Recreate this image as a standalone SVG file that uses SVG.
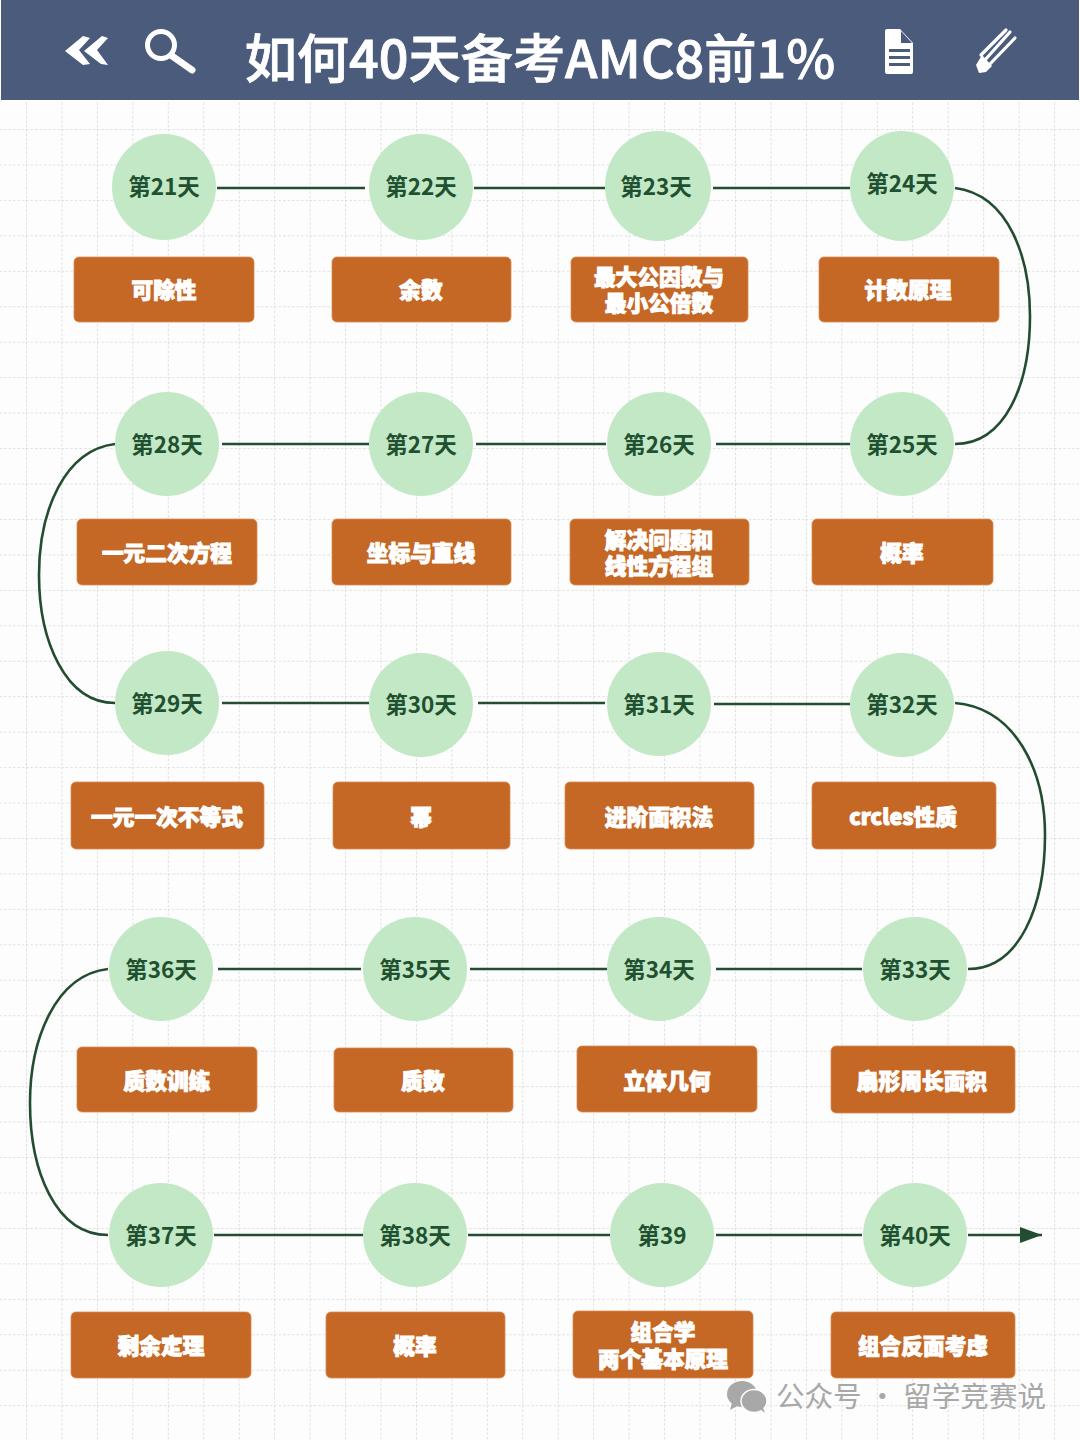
<svg xmlns="http://www.w3.org/2000/svg" width="1080" height="1440" viewBox="0 0 1080 1440">
<style>
text{font-family:"Noto Sans CJK SC","Noto Sans",sans-serif;text-anchor:middle}
.c{fill:#c3e8c6}
.b{fill:#c56725;stroke:#d98a52;stroke-width:.8}
.d{font-size:22.5px;font-weight:700;fill:#1f5130}
.t{font-size:21.7px;font-weight:900;fill:#fff;stroke:#fff;stroke-width:1}
.m{font-family:"Liberation Sans","Noto Sans CJK SC",sans-serif}
.l{fill:none;stroke:#234d30;stroke-width:2.6}
.i{fill:#fff}
.s{fill:none;stroke:#fff;stroke-linecap:round}
</style>
<defs>
<pattern id="grid" x="26" y="129" width="35.45" height="35.45" patternUnits="userSpaceOnUse">
<path d="M0 0H35.45M0 0V35.45" fill="none" stroke="#d4d8d4" stroke-width="1.6" stroke-dasharray="2.5 2"/>
</pattern>
<marker id="arrow" markerUnits="userSpaceOnUse" markerWidth="24" markerHeight="18" refX="22" refY="8" orient="auto"><path d="M0 0L22 8L0 16Z" fill="#234d30"/></marker>
</defs>
<rect width="1080" height="1440" fill="#fdfdfd"/>
<rect y="102" width="1080" height="1338" fill="url(#grid)"/>
<g id="header">
<rect x="1" width="1078" height="100" fill="#4b5b7c"/>
<path class="i" d="M65 51L83 36L90 38L79 50L90 64L83 65ZM84 51L102 36L108 38L97 50L108 65L101 64Z"/>
<circle class="s" cx="161" cy="45" r="13.5" stroke-width="5"/>
<path class="s" d="M172 56L192 70" stroke-width="7"/>
<text x="540" y="78" font-size="52.2" font-weight="500" fill="#fff" stroke="#fff" stroke-width=".8">如何40天备考AMC8前1%</text>
<path class="i" d="M887 29H900L913 43V72Q913 74 911 74H887Q885 74 885 72V31Q885 29 887 29ZM889 49V52H910V49ZM889 56V59H910V56ZM889 63V66H910V63ZM901 31V43H912Z" fill-rule="evenodd"/>
<path class="s" d="M985 60L1010 32M990 64L1015 38M981 55L1006 30" stroke-width="3.2"/>
<path class="i" d="M976 65L979 73L986 72L992 66L982 55Z"/>
</g>
<g id="connectors">
<path class="l" d="M217 188H365M474 188H605M713 188H850M955 188C1010 195 1030 260 1030 316C1030 385 1005 444 955 444"/>
<path class="l" d="M222 444H369M476 444H606M716 444H850M115 444C65 450 39 510 39 575C39 640 65 703 115 703"/>
<path class="l" d="M222 703H369M478 703H605M714 704H850M955 703C1015 708 1045 770 1045 835C1045 905 1020 969 968 969"/>
<path class="l" d="M218 969H361M470 969H607M716 969H862M108 969C55 975 30 1040 30 1103C30 1170 55 1235 108 1235"/>
<path class="l" d="M214 1235H363M468 1235H610M716 1235H862"/>
<path class="l" d="M968 1235H1042" marker-end="url(#arrow)"/>
</g>
<g id="day21"><ellipse class="c" cx="164" cy="187" rx="52" ry="53"/><text class="d" x="164" y="195">第21天</text></g>
<g id="day22"><ellipse class="c" cx="421" cy="187" rx="52" ry="53"/><text class="d" x="421" y="195">第22天</text></g>
<g id="day23"><ellipse class="c" cx="658" cy="186" rx="53" ry="55"/><text class="d" x="656" y="195">第23天</text></g>
<g id="day24"><ellipse class="c" cx="902" cy="186" rx="52" ry="55"/><text class="d" x="902" y="192">第24天</text></g>
<g id="day25"><circle class="c" cx="902" cy="444" r="52"/><text class="d" x="902" y="453">第25天</text></g>
<g id="day26"><circle class="c" cx="659" cy="444" r="52"/><text class="d" x="659" y="453">第26天</text></g>
<g id="day27"><circle class="c" cx="421" cy="444" r="52"/><text class="d" x="421" y="453">第27天</text></g>
<g id="day28"><circle class="c" cx="167" cy="444" r="52"/><text class="d" x="167" y="453">第28天</text></g>
<g id="day29"><circle class="c" cx="167" cy="703" r="52"/><text class="d" x="167" y="712">第29天</text></g>
<g id="day30"><circle class="c" cx="421" cy="705" r="52"/><text class="d" x="421" y="713">第30天</text></g>
<g id="day31"><circle class="c" cx="659" cy="704" r="52"/><text class="d" x="659" y="713">第31天</text></g>
<g id="day32"><circle class="c" cx="902" cy="705" r="52"/><text class="d" x="902" y="713">第32天</text></g>
<g id="day33"><circle class="c" cx="915" cy="969" r="52"/><text class="d" x="915" y="978">第33天</text></g>
<g id="day34"><circle class="c" cx="659" cy="969" r="52"/><text class="d" x="659" y="978">第34天</text></g>
<g id="day35"><circle class="c" cx="415" cy="969" r="52"/><text class="d" x="415" y="978">第35天</text></g>
<g id="day36"><circle class="c" cx="161" cy="969" r="52"/><text class="d" x="161" y="978">第36天</text></g>
<g id="day37"><circle class="c" cx="161" cy="1235" r="52"/><text class="d" x="161" y="1244">第37天</text></g>
<g id="day38"><circle class="c" cx="415" cy="1235" r="52"/><text class="d" x="415" y="1244">第38天</text></g>
<g id="day39"><circle class="c" cx="662" cy="1235" r="52"/><text class="d" x="662" y="1244">第39</text></g>
<g id="day40"><circle class="c" cx="915" cy="1235" r="52"/><text class="d" x="915" y="1244">第40天</text></g>
<g id="topic21"><rect class="b" x="74" y="257" width="180" height="65" rx="5"/><text class="t" x="164" y="298">可除性</text></g>
<g id="topic22"><rect class="b" x="332" y="257" width="179" height="65" rx="5"/><text class="t" x="421" y="298">余数</text></g>
<g id="topic23"><rect class="b" x="571" y="257" width="177" height="65" rx="5"/><text class="t m" x="659" y="285">最大公因数与</text><text class="t m" x="659" y="311">最小公倍数</text></g>
<g id="topic24"><rect class="b" x="819" y="257" width="180" height="65" rx="5"/><text class="t" x="908" y="298">计数原理</text></g>
<g id="topic25"><rect class="b" x="812" y="519" width="181" height="66" rx="5"/><text class="t" x="902" y="561">概率</text></g>
<g id="topic26"><rect class="b" x="570" y="519" width="179" height="66" rx="5"/><text class="t m" x="659" y="548">解决问题和</text><text class="t m" x="659" y="574">线性方程组</text></g>
<g id="topic27"><rect class="b" x="332" y="519" width="179" height="66" rx="5"/><text class="t" x="421" y="561">坐标与直线</text></g>
<g id="topic28"><rect class="b" x="77" y="519" width="180" height="66" rx="5"/><text class="t" x="167" y="561">一元二次方程</text></g>
<g id="topic29"><rect class="b" x="71" y="782" width="193" height="67" rx="5"/><text class="t" x="167" y="825">一元一次不等式</text></g>
<g id="topic30"><rect class="b" x="333" y="782" width="177" height="67" rx="5"/><text class="t" x="421" y="825">幂</text></g>
<g id="topic31"><rect class="b" x="565" y="782" width="189" height="67" rx="5"/><text class="t" x="659" y="825">进阶面积法</text></g>
<g id="topic32"><rect class="b" x="812" y="782" width="184" height="67" rx="5"/><text class="t" x="903" y="825">crcles性质</text></g>
<g id="topic33"><rect class="b" x="831" y="1046" width="184" height="67" rx="5"/><text class="t" x="922" y="1089">扇形周长面积</text></g>
<g id="topic34"><rect class="b" x="577" y="1046" width="180" height="66" rx="5"/><text class="t" x="667" y="1089">立体几何</text></g>
<g id="topic35"><rect class="b" x="334" y="1048" width="179" height="64" rx="5"/><text class="t" x="423" y="1089">质数</text></g>
<g id="topic36"><rect class="b" x="77" y="1047" width="180" height="65" rx="5"/><text class="t" x="167" y="1089">质数训练</text></g>
<g id="topic37"><rect class="b" x="71" y="1312" width="180" height="66" rx="5"/><text class="t" x="161" y="1354">剩余定理</text></g>
<g id="topic38"><rect class="b" x="326" y="1312" width="179" height="66" rx="5"/><text class="t" x="415" y="1354">概率</text></g>
<g id="topic39"><rect class="b" x="573" y="1311" width="180" height="67" rx="5"/><text class="t m" x="663" y="1340">组合学</text><text class="t m" x="663" y="1367">两个基本原理</text></g>
<g id="topic40"><rect class="b" x="831" y="1312" width="184" height="66" rx="5"/><text class="t" x="923" y="1354">组合反面考虑</text></g>
<g id="watermark">
<ellipse cx="742" cy="1394" rx="15" ry="13" fill="#a8a8a8"/>
<path d="M732 1403L730 1410L739 1405Z" fill="#a8a8a8"/>
<ellipse cx="754" cy="1401" rx="13" ry="11.5" fill="#a8a8a8" stroke="#fdfdfd" stroke-width="1.5"/>
<path d="M760 1409L765 1413L762 1405Z" fill="#a8a8a8"/>
<text x="911" y="1407" font-size="28.6" fill="#a8a8a8">公众号 · 留学竞赛说</text>
</g>
</svg>
